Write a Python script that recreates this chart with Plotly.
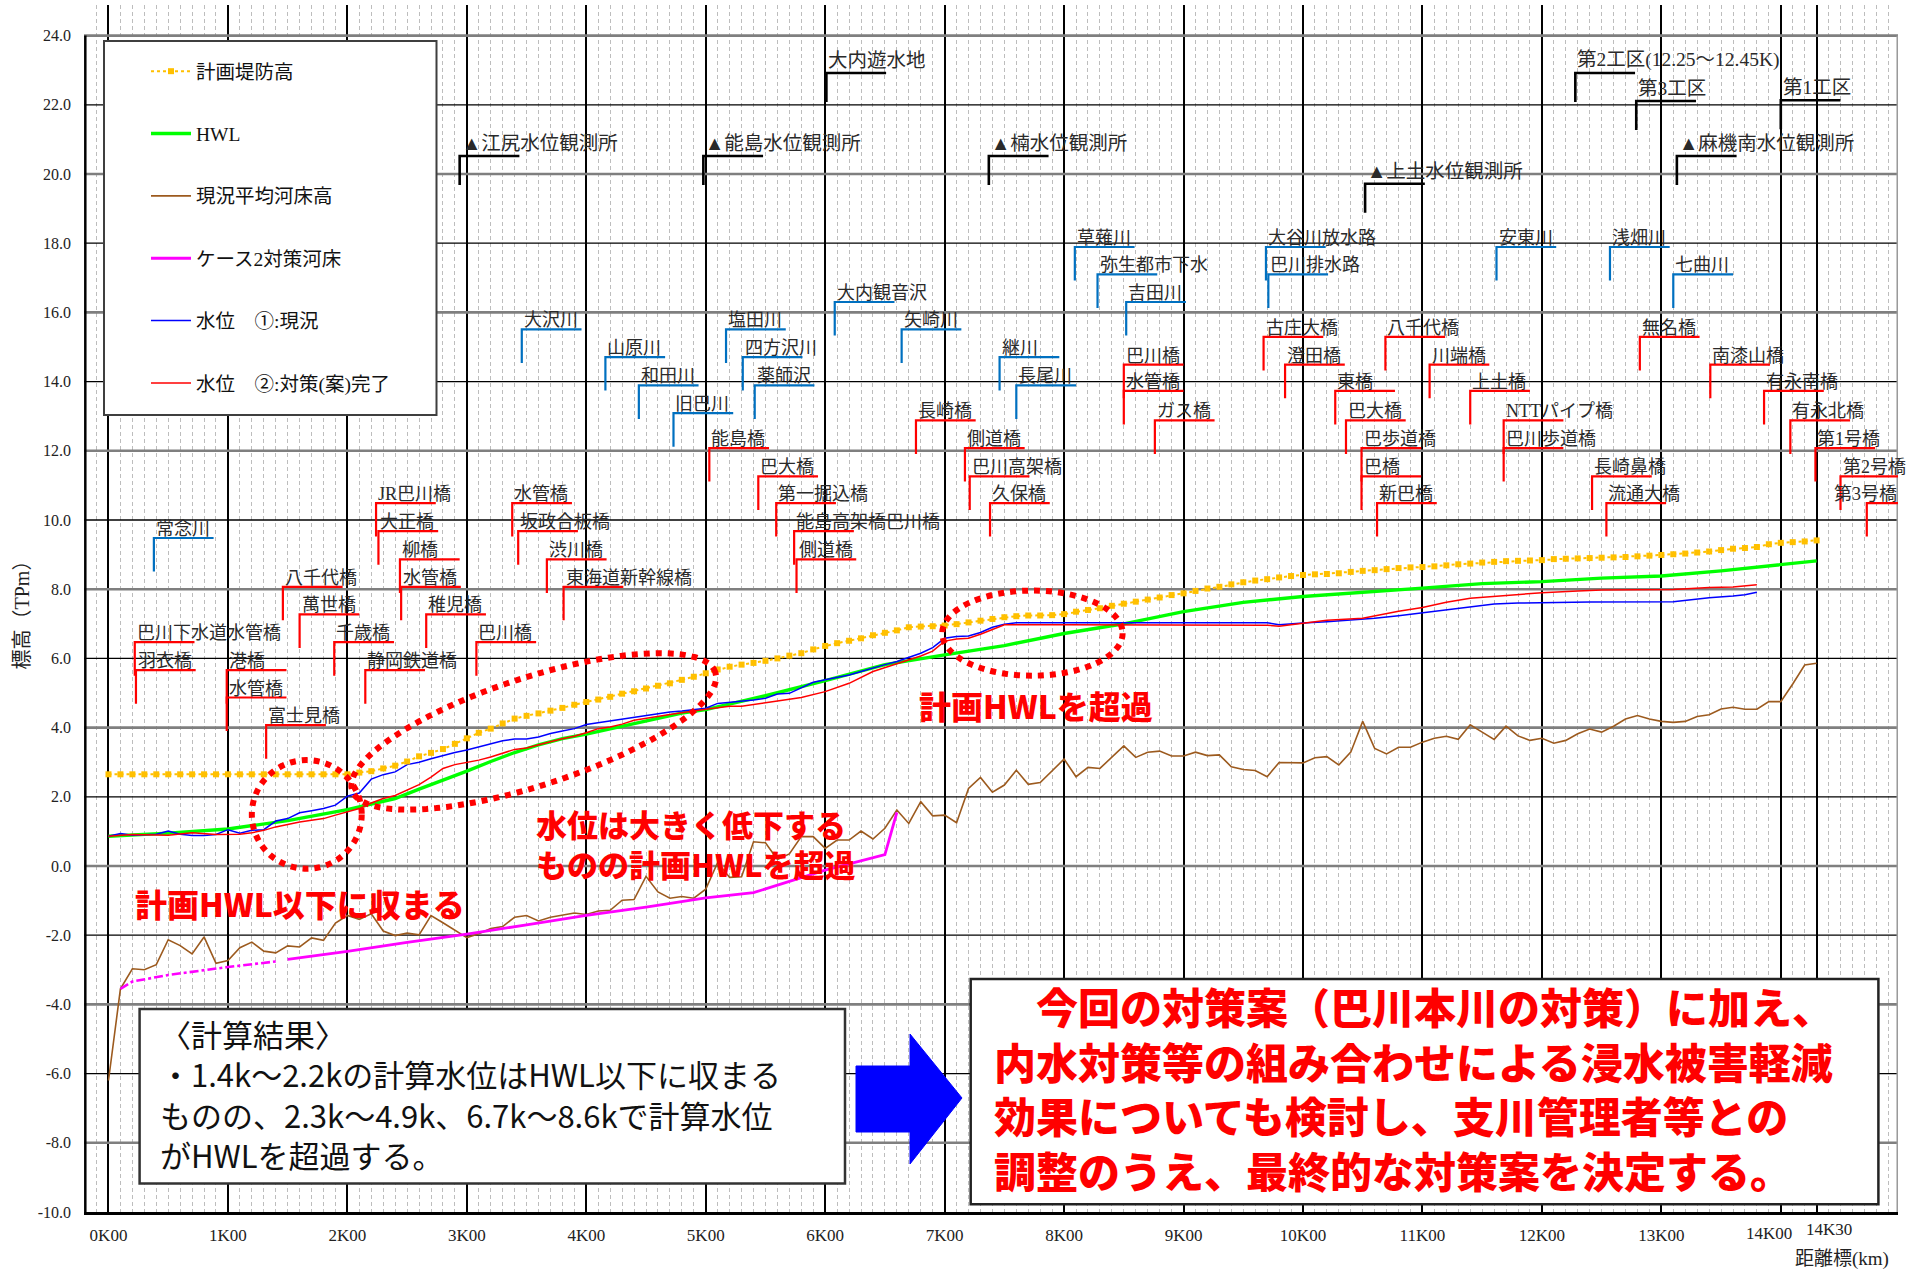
import math
import plotly.graph_objects as go

# ---------------- longitudinal profile data (distance: km, elevation: T.P. m) ----------------
stations = [
    0.0, 0.1, 0.2, 0.3, 0.4, 0.5, 0.6, 0.7, 0.8, 0.9,
    1.0, 1.1, 1.2, 1.3, 1.4, 1.5, 1.6, 1.7, 1.8, 1.9,
    2.0, 2.1, 2.2, 2.3, 2.4, 2.5, 2.6, 2.7, 2.8, 2.9,
    3.0, 3.1, 3.2, 3.3, 3.4, 3.5, 3.6, 3.7, 3.8, 3.9,
    4.0, 4.1, 4.2, 4.3, 4.4, 4.5, 4.6, 4.7, 4.8, 4.9,
    5.0, 5.1, 5.2, 5.3, 5.4, 5.5, 5.6, 5.7, 5.8, 5.9,
    6.0, 6.1, 6.2, 6.3, 6.4, 6.5, 6.6, 6.7, 6.8, 6.9,
    7.0, 7.1, 7.2, 7.3, 7.4, 7.5, 7.6, 7.7, 7.8, 7.9,
    8.0, 8.1, 8.2, 8.3, 8.4, 8.5, 8.6, 8.7, 8.8, 8.9,
    9.0, 9.1, 9.2, 9.3, 9.4, 9.5, 9.6, 9.7, 9.8, 9.9,
    10.0, 10.1, 10.2, 10.3, 10.4, 10.5, 10.6, 10.7, 10.8, 10.9,
    11.0, 11.1, 11.2, 11.3, 11.4, 11.5, 11.6, 11.7, 11.8, 11.9,
    12.0, 12.1, 12.2, 12.3, 12.4, 12.5, 12.6, 12.7, 12.8, 12.9,
    13.0, 13.1, 13.2, 13.3, 13.4, 13.5, 13.6, 13.7, 13.8, 13.9,
    14.0, 14.1, 14.2, 14.3,
]

# 計画堤防高
levee_crown = [
    2.65, 2.65, 2.65, 2.65, 2.65, 2.65, 2.65, 2.65, 2.65, 2.65,
    2.65, 2.65, 2.65, 2.65, 2.65, 2.65, 2.65, 2.65, 2.65, 2.65,
    2.65, 2.70, 2.74, 2.82, 2.90, 3.02, 3.17, 3.27, 3.38, 3.53,
    3.69, 3.85, 3.97, 4.12, 4.26, 4.34, 4.41, 4.49, 4.57, 4.66,
    4.74, 4.81, 4.89, 4.98, 5.05, 5.13, 5.21, 5.28, 5.38, 5.47,
    5.57, 5.68, 5.76, 5.82, 5.87, 5.93, 6.00, 6.08, 6.15, 6.26,
    6.36, 6.44, 6.51, 6.58, 6.67, 6.74, 6.81, 6.90, 6.92, 6.93,
    6.95, 6.99, 7.04, 7.09, 7.14, 7.19, 7.22, 7.24, 7.24, 7.25,
    7.28, 7.35, 7.40, 7.45, 7.52, 7.58, 7.64, 7.70, 7.76, 7.83,
    7.88, 7.95, 8.02, 8.07, 8.14, 8.20, 8.25, 8.29, 8.34, 8.38,
    8.41, 8.43, 8.44, 8.46, 8.50, 8.53, 8.55, 8.58, 8.61, 8.63,
    8.64, 8.66, 8.69, 8.72, 8.74, 8.77, 8.79, 8.81, 8.82, 8.83,
    8.84, 8.87, 8.88, 8.89, 8.90, 8.91, 8.92, 8.93, 8.95, 8.97,
    8.99, 9.01, 9.03, 9.06, 9.09, 9.13, 9.17, 9.19, 9.22, 9.30,
    9.34, 9.36, 9.38, 9.41,
]

# 現況平均河床高
bed_current = [
    -6.20, -3.55, -2.97, -3.00, -2.85, -2.13, -2.30, -2.54, -2.05, -2.81,
    -2.73, -2.36, -2.20, -2.46, -2.51, -2.31, -2.34, -2.08, -2.15, -1.65,
    -1.43, -1.54, -1.38, -1.88, -2.01, -1.94, -1.99, -1.43, -1.64, -1.86,
    -2.07, -1.96, -1.81, -1.75, -1.48, -1.43, -1.59, -1.48, -1.41, -1.36,
    -1.40, -1.30, -1.28, -0.99, -0.97, -0.30, -0.75, -0.93, -0.88, -0.93,
    -0.67, 0.10, -0.33, -0.31, 0.70, 0.67, 0.19, 0.35, 0.85, 0.85,
    0.51, 0.75, 0.75, 1.01, 0.78, 1.09, 1.62, 1.23, 1.86, 1.45,
    1.47, 1.25, 2.24, 2.56, 2.13, 2.34, 2.77, 2.36, 2.41, 2.76,
    3.09, 2.58, 2.85, 2.82, 3.14, 3.47, 3.14, 3.29, 3.32, 3.18,
    3.18, 3.29, 3.19, 3.21, 2.87, 2.79, 2.76, 2.58, 2.99, 2.99,
    2.98, 3.13, 3.16, 2.92, 3.29, 4.18, 3.40, 3.24, 3.43, 3.43,
    3.58, 3.69, 3.75, 3.66, 4.08, 3.87, 3.66, 4.04, 3.76, 3.63,
    3.69, 3.55, 3.63, 3.82, 3.96, 3.87, 4.04, 4.25, 4.35, 4.25,
    4.18, 4.15, 4.18, 4.32, 4.37, 4.54, 4.59, 4.53, 4.53, 4.75,
    4.75, 5.26, 5.81, 5.86,
]

# HWL
hwl_km = [0.0, 0.5, 1.0, 1.5, 2.0, 2.2, 2.4, 2.6, 2.8, 3.0, 3.2, 3.4, 3.6, 3.8,
          4.0, 4.2, 4.4, 4.6, 4.8, 5.0, 5.5, 6.0, 6.5, 7.0, 7.5, 8.0, 8.5, 9.0,
          9.5, 10.0, 10.5, 11.0, 11.5, 12.0, 12.5, 13.0, 13.5, 14.0, 14.3]
hwl = [0.86, 0.95, 1.07, 1.31, 1.63, 1.78, 1.95, 2.22, 2.47, 2.74, 3.02, 3.28, 3.50, 3.68,
       3.81, 3.96, 4.13, 4.27, 4.42, 4.52, 4.92, 5.36, 5.82, 6.10, 6.37, 6.72, 7.00, 7.35,
       7.62, 7.79, 7.90, 8.03, 8.16, 8.22, 8.32, 8.38, 8.53, 8.72, 8.82]

# ケース2対策河床 (solid section and the dash-dot lead-in near the mouth)
case2_km = [1.5, 2.0, 2.5, 3.0, 3.5, 4.0, 4.5, 5.0, 5.4, 6.0, 6.5, 6.6]
case2_bed = [-2.70, -2.47, -2.21, -1.97, -1.70, -1.43, -1.19, -0.92, -0.77, -0.12, 0.33, 1.55]
case2_lead_km = [0.1, 0.2, 0.5, 1.0, 1.4]
case2_lead = [-3.55, -3.34, -3.15, -2.92, -2.76]

# 水位 ①:現況
wl_now_km = [
    0.0, 0.1, 0.2, 0.3, 0.4, 0.5, 0.6, 0.7, 0.8, 0.9,
    1.0, 1.1, 1.2, 1.3, 1.4, 1.5, 1.6, 1.7, 1.8, 1.9,
    2.0, 2.1, 2.2, 2.3, 2.4, 2.5, 2.6, 2.7, 2.8, 2.9,
    3.0, 3.1, 3.2, 3.3, 3.4, 3.5, 3.6, 3.7, 3.8, 3.9,
    4.0, 4.1, 4.2, 4.3, 4.4, 4.5, 4.6, 4.7, 4.8, 4.9,
    5.0, 5.1, 5.2, 5.3, 5.4, 5.5, 5.6, 5.7, 5.8, 5.9,
    6.0, 6.1, 6.2, 6.3, 6.4, 6.5, 6.6, 6.7, 6.8, 6.9,
    7.0, 7.1, 7.2, 7.3, 7.4, 7.5, 7.6,
    8.0, 8.5, 9.0, 9.5, 9.7, 9.8, 9.9, 10.0, 10.2, 10.4, 10.5, 10.6, 10.8,
    11.0, 11.2, 11.4, 11.6, 11.8, 12.0, 12.3, 12.4, 13.1, 13.2, 13.4, 13.6, 13.7, 13.8,
]
wl_now = [
    0.86, 0.94, 0.89, 0.91, 0.92, 1.01, 0.92, 0.88, 0.88, 0.91,
    1.05, 0.95, 1.03, 1.05, 1.30, 1.37, 1.54, 1.60, 1.66, 1.76,
    2.02, 2.11, 2.51, 2.64, 2.72, 2.93, 3.00, 3.10, 3.20, 3.28,
    3.35, 3.44, 3.54, 3.62, 3.67, 3.67, 3.73, 3.83, 3.90, 3.97,
    4.09, 4.14, 4.19, 4.26, 4.31, 4.36, 4.41, 4.45, 4.48, 4.52,
    4.56, 4.70, 4.73, 4.75, 4.80, 4.85, 4.97, 4.99, 5.15, 5.31,
    5.38, 5.45, 5.52, 5.62, 5.73, 5.82, 5.91, 6.03, 6.15, 6.31,
    6.58, 6.63, 6.65, 6.75, 6.90, 6.99, 7.03,
    7.03, 7.03, 7.03, 7.03, 7.03, 6.97, 7.00, 7.02, 7.06, 7.11, 7.12, 7.16, 7.23,
    7.32, 7.40, 7.49, 7.57, 7.60, 7.61, 7.61, 7.63, 7.64, 7.68, 7.75, 7.80, 7.84, 7.91,
]

# 水位 ②:対策(案)完了
wl_plan_km = [
    0.0, 0.2, 0.5, 0.7, 0.9,
    1.0, 1.1, 1.2, 1.3, 1.4, 1.5, 1.6, 1.7, 1.8, 1.9,
    2.0, 2.1, 2.2, 2.3, 2.4, 2.5, 2.6, 2.7, 2.8, 2.9,
    3.0, 3.1, 3.2, 3.3, 3.4, 3.5, 3.6, 3.7, 3.8, 3.9,
    4.0, 4.1, 4.2, 4.3, 4.4, 4.5, 4.6, 4.7, 4.8, 4.9,
    5.0, 5.2, 5.3, 5.5, 5.7, 5.8, 6.0, 6.2, 6.4, 6.6, 6.8, 6.9,
    7.0, 7.1, 7.2, 7.3, 7.4, 7.5, 8.0, 8.5, 9.0, 9.5, 9.7, 9.8,
    10.0, 10.2, 10.5, 10.8, 11.0, 11.2, 11.4, 11.8, 12.0, 12.3, 12.5, 13.1, 13.4, 13.6, 13.8,
]
wl_plan = [
    0.86, 0.91, 0.89, 0.96, 0.91,
    0.91, 0.92, 0.96, 1.03, 1.13, 1.21, 1.27, 1.32, 1.37, 1.47,
    1.56, 1.66, 1.82, 1.95, 2.04, 2.19, 2.35, 2.57, 2.82, 2.93,
    2.99, 3.06, 3.15, 3.27, 3.37, 3.41, 3.49, 3.59, 3.68, 3.75,
    3.85, 3.97, 4.02, 4.10, 4.21, 4.27, 4.34, 4.38, 4.43, 4.47,
    4.53, 4.62, 4.62, 4.72, 4.83, 4.87, 5.04, 5.28, 5.62, 5.84, 6.07, 6.21,
    6.50, 6.56, 6.58, 6.70, 6.84, 6.97, 6.97, 6.97, 6.97, 6.97, 6.96, 6.93,
    7.02, 7.10, 7.16, 7.36, 7.47, 7.62, 7.74, 7.84, 7.90, 7.95, 7.98, 7.99, 8.05, 8.06, 8.13,
]

# ---------------- landmarks along the river: (name, distance km, leader elevation) ----------------
gauges_and_works = [
    ("▲江尻水位観測所", 2.94, 20.52),
    ("▲能島水位観測所", 4.98, 20.52),
    ("▲楠水位観測所", 7.37, 20.52),
    ("▲上土水位観測所", 10.52, 19.72),
    ("▲麻機南水位観測所", 13.13, 20.52),
    ("大内遊水地", 6.01, 22.92),
    ("第2工区(12.25～12.45K)", 12.28, 22.92),
    ("第3工区", 12.79, 22.11),
    ("第1工区", 14.00, 22.13),
]

tributaries = [
    ("常念川", 0.38, 9.48),
    ("大沢川", 3.46, 15.51),
    ("山原川", 4.16, 14.71),
    ("和田川", 4.44, 13.89),
    ("旧巴川", 4.73, 13.09),
    ("塩田川", 5.17, 15.51),
    ("四方沢川", 5.31, 14.71),
    ("薬師沢", 5.41, 13.89),
    ("大内観音沢", 6.08, 16.30),
    ("矢崎川", 6.64, 15.51),
    ("継川", 7.46, 14.71),
    ("長尾川", 7.60, 13.89),
    ("草薙川", 8.09, 17.89),
    ("弥生都市下水", 8.28, 17.10),
    ("吉田川", 8.52, 16.30),
    ("大谷川放水路", 9.69, 17.89),
    ("巴川排水路", 9.71, 17.10),
    ("安東川", 11.62, 17.89),
    ("浅畑川", 12.57, 17.89),
    ("七曲川", 13.10, 17.10),
]

bridges = [
    ("巴川下水道水管橋", 0.22, 6.47),
    ("羽衣橋", 0.23, 5.66),
    ("港橋", 0.99, 5.66),
    ("水管橋", 0.99, 4.87),
    ("富士見橋", 1.32, 4.07),
    ("八千代橋", 1.46, 8.07),
    ("萬世橋", 1.60, 7.27),
    ("千歳橋", 1.89, 6.47),
    ("静岡鉄道橋", 2.15, 5.66),
    ("JR巴川橋", 2.24, 10.49),
    ("大正橋", 2.26, 9.68),
    ("柳橋", 2.44, 8.86),
    ("水管橋", 2.45, 8.07),
    ("稚児橋", 2.66, 7.27),
    ("巴川橋", 3.08, 6.47),
    ("水管橋", 3.38, 10.49),
    ("坂政合板橋", 3.43, 9.68),
    ("渋川橋", 3.67, 8.86),
    ("東海道新幹線橋", 3.81, 8.07),
    ("能島橋", 5.03, 12.08),
    ("巴大橋", 5.44, 11.26),
    ("第一掘込橋", 5.59, 10.49),
    ("能島高架橋巴川橋", 5.74, 9.68),
    ("側道橋", 5.76, 8.86),
    ("長崎橋", 6.76, 12.88),
    ("側道橋", 7.17, 12.08),
    ("巴川高架橋", 7.21, 11.26),
    ("久保橋", 7.38, 10.49),
    ("巴川橋", 8.50, 14.49),
    ("水管橋", 8.50, 13.73),
    ("ガス橋", 8.76, 12.88),
    ("古庄大橋", 9.67, 15.29),
    ("澄田橋", 9.85, 14.49),
    ("東橋", 10.27, 13.73),
    ("巴大橋", 10.36, 12.88),
    ("巴歩道橋", 10.49, 12.08),
    ("巴橋", 10.49, 11.26),
    ("新巴橋", 10.62, 10.49),
    ("八千代橋", 10.69, 15.29),
    ("川端橋", 11.06, 14.49),
    ("上土橋", 11.40, 13.73),
    ("NTTパイプ橋", 11.68, 12.88),
    ("巴川歩道橋", 11.68, 12.08),
    ("長崎鼻橋", 12.42, 11.26),
    ("流通大橋", 12.54, 10.49),
    ("無名橋", 12.82, 15.29),
    ("南漆山橋", 13.41, 14.49),
    ("有永南橋", 13.86, 13.73),
    ("有永北橋", 14.08, 12.88),
    ("第1号橋", 14.29, 12.08),
    ("第2号橋", 14.50, 11.26),
    ("第3号橋", 14.72, 10.49),
]

km_ticks = [0, 1, 2, 3, 4, 5, 6, 7, 8, 9, 10, 11, 12, 13, 14]
km_tick_text = ["0K00", "1K00", "2K00", "3K00", "4K00", "5K00", "6K00", "7K00",
                "8K00", "9K00", "10K00", "11K00", "12K00", "13K00", "14K00"]
elev_ticks = [-10, -8, -6, -4, -2, 0, 2, 4, 6, 8, 10, 12, 14, 16, 18, 20, 22, 24]

# ---------------- page geometry ----------------
FIG_W, FIG_H = 1926, 1269
M_L, M_R, M_T, M_B = 84, 28, 5, 57
PLOT_W = FIG_W - M_L - M_R
PLOT_H = FIG_H - M_T - M_B
PX_PER_KM = 119.45
PX_PER_M = 34.6
X_MIN = -0.205
X_MAX = X_MIN + PLOT_W / PX_PER_KM
Y_MIN = -10.0
Y_MAX = Y_MIN + PLOT_H / PX_PER_M


def paper_x(px):
    return (px - M_L) / PLOT_W


def paper_y(py):
    return (FIG_H - M_B - py) / PLOT_H


SERIF_JP = "Liberation Serif, Noto Sans CJK JP"
SANS_JP = "Noto Sans CJK JP"
RED = "#FF0000"

fig = go.Figure()

# ---------------- profile lines ----------------
fig.add_trace(go.Scatter(
    x=stations, y=bed_current, mode="lines", name="現況平均河床高",
    line=dict(color="#9C5A1E", width=1.6), legendgroup="bed", legendrank=3))
fig.add_trace(go.Scatter(
    x=case2_lead_km, y=case2_lead, mode="lines", name="ケース2対策河床",
    line=dict(color="#FF00FF", width=2.6, dash="dashdot"),
    legendgroup="case2", showlegend=False))
fig.add_trace(go.Scatter(
    x=case2_km, y=case2_bed, mode="lines", name="ケース2対策河床",
    line=dict(color="#FF00FF", width=2.8), legendgroup="case2", legendrank=4))
fig.add_trace(go.Scatter(
    x=hwl_km, y=hwl, mode="lines", name="HWL",
    line=dict(color="#00FF00", width=3.4), legendgroup="hwl", legendrank=2))
fig.add_trace(go.Scatter(
    x=wl_now_km, y=wl_now, mode="lines", name="水位　①:現況",
    line=dict(color="#0000FF", width=1.5), legendgroup="now", legendrank=5))
fig.add_trace(go.Scatter(
    x=wl_plan_km, y=wl_plan, mode="lines", name="水位　②:対策(案)完了",
    line=dict(color="#FF0000", width=1.5), legendgroup="plan", legendrank=6))
fig.add_trace(go.Scatter(
    x=stations, y=levee_crown, mode="lines+markers", name="計画堤防高",
    line=dict(color="#FFC000", width=2, dash="dot"),
    marker=dict(symbol="square", size=6, color="#FFC000"),
    legendgroup="levee", legendrank=1))

# ---------------- horizontal grid, axis frame ----------------
for v in elev_ticks[1:]:
    heavy = v % 4 == 0
    fig.add_shape(type="line", xref="x", yref="y", x0=X_MIN, x1=X_MAX, y0=v, y1=v,
                  line=dict(color="#7F7F7F" if heavy else "#000000", width=2.6 if heavy else 1.3),
                  layer="between")
fig.add_shape(type="line", xref="x", yref="y", x0=X_MIN + 0.011, x1=X_MIN + 0.011, y0=-10, y1=24,
              line=dict(color="#000000", width=2.5), layer="between")
fig.add_shape(type="line", xref="x", yref="y", x0=X_MAX - 0.006, x1=X_MAX - 0.006, y0=-10, y1=24,
              line=dict(color="#9A9A9A", width=1.6), layer="between")

# ---------------- landmark leaders ----------------
ARM_KM = 0.5


def text_em(s):
    # rough advance width in em: ASCII is about half as wide as a CJK glyph
    return sum(0.5 if ord(c) < 128 else 1.0 for c in s)


def leader(name, km, top, color, lw, drop, size, lift):
    fig.add_shape(type="path", xref="x", yref="y",
                  path=f"M {km},{top - drop} L {km},{top} L {km + ARM_KM},{top}",
                  line=dict(color=color, width=lw), layer="above")
    text_w = text_em(name) * size / PX_PER_KM
    font = dict(family=SERIF_JP, size=size, color="#2a2a2a")
    # keep a label inside the frame when it would spill well past the right edge
    if km + text_w > X_MAX + 0.2:
        fig.add_annotation(x=X_MAX, y=top, xref="x", yref="y", xanchor="right", yanchor="bottom",
                           yshift=lift, text=name, showarrow=False, borderpad=0, font=font)
    else:
        fig.add_annotation(x=km, y=top, xref="x", yref="y", xanchor="left", yanchor="bottom",
                           xshift=1, yshift=lift, text=name, showarrow=False, borderpad=0, font=font)


for name, km, top in gauges_and_works:
    leader(name, km, top, "#000000", 2.6, 0.84, 19.5, 1)
for name, km, top in tributaries:
    leader(name, km, top, "#0070C0", 2.2, 0.97, 18, -2)
for name, km, top in bridges:
    leader(name, km, top, "#FF0000", 2.2, 0.97, 18, -2)

# ---------------- highlighted reaches (dotted rings) ----------------
ring = dict(color=RED, width=6, dash="dot")
fig.add_shape(type="circle", xref="x", yref="y", x0=1.20, x1=2.12, y0=-0.08, y1=3.06,
              line=ring, layer="above")
fig.add_shape(type="circle", xref="x", yref="y", x0=6.98, x1=8.49, y0=5.50, y1=7.96,
              line=ring, layer="above")


def tilted_ring(cx, cy, a_px, b_px, tilt_deg, n=96):
    th = math.radians(tilt_deg)
    pts = []
    for i in range(n):
        t = 2 * math.pi * i / n
        dx = a_px * math.cos(t) * math.cos(th) - b_px * math.sin(t) * math.sin(th)
        dy = a_px * math.cos(t) * math.sin(th) + b_px * math.sin(t) * math.cos(th)
        pts.append((cx + dx / PX_PER_KM, cy + dy / PX_PER_M))
    return "M " + " L ".join(f"{x:.4f},{y:.4f}" for x, y in pts) + " Z"


fig.add_shape(type="path", xref="x", yref="y", path=tilted_ring(3.56, 3.89, 191, 54, 18),
              line=ring, layer="above")

# ---------------- callouts ----------------
fig.add_annotation(x=1.607, y=-1.06, xref="x", yref="y", text="計画HWL以下に収まる",
                   showarrow=False, xanchor="center", yanchor="middle",
                   font=dict(family=SANS_JP, size=32, color=RED, weight=900))
fig.add_annotation(x=3.563, y=0.66, xref="x", yref="y",
                   text="水位は大きく低下する<br>ものの計画HWLを超過",
                   showarrow=False, xanchor="left", yanchor="middle", align="left",
                   font=dict(family=SANS_JP, size=31, color=RED, weight=900))
fig.add_annotation(x=7.763, y=4.64, xref="x", yref="y", text="計画HWLを超過",
                   showarrow=False, xanchor="center", yanchor="middle",
                   font=dict(family=SANS_JP, size=32, color=RED, weight=900))

# ---------------- legend frame ----------------
fig.add_shape(type="rect", xref="paper", yref="paper",
              x0=paper_x(104), x1=paper_x(436.5), y0=paper_y(415), y1=paper_y(41),
              fillcolor="#FFFFFF", line=dict(color="#3F3F3F", width=2), layer="above")

# ---------------- result box, arrow and conclusion box ----------------
fig.add_shape(type="rect", xref="paper", yref="paper",
              x0=paper_x(139.6), x1=paper_x(845), y0=paper_y(1183.5), y1=paper_y(1009),
              fillcolor="#FFFFFF", line=dict(color="#333333", width=2.5), layer="above")
result_text = ("〈計算結果〉<br>"
               "・1.4k～2.2kの計算水位はHWL以下に収まる<br>"
               "ものの、2.3k～4.9k、6.7k～8.6kで計算水位<br>"
               "がHWLを超過する。")
fig.add_annotation(x=paper_x(158), y=paper_y(1094), xref="paper", yref="paper",
                   text=result_text, showarrow=False, xanchor="left", yanchor="middle", align="left",
                   font=dict(family=SANS_JP, size=31, color="#111111"))

arrow_px = [(856, 1066), (910, 1066), (910, 1034), (962, 1098), (910, 1164), (910, 1132), (856, 1132)]
arrow_path = "M " + " L ".join(f"{paper_x(x):.5f},{paper_y(y):.5f}" for x, y in arrow_px) + " Z"
fig.add_shape(type="path", xref="paper", yref="paper", path=arrow_path,
              fillcolor="#0000FF", line=dict(color="#0000FF", width=1), layer="above")

fig.add_shape(type="rect", xref="paper", yref="paper",
              x0=paper_x(970.7), x1=paper_x(1878.4), y0=paper_y(1204.3), y1=paper_y(979),
              fillcolor="#FFFFFF", line=dict(color="#222222", width=2.5), layer="above")
conclusion_text = ("　今回の対策案（巴川本川の対策）に加え、<br>"
                   "内水対策等の組み合わせによる浸水被害軽減<br>"
                   "効果についても検討し、支川管理者等との<br>"
                   "調整のうえ、最終的な対策案を決定する。")
fig.add_annotation(x=paper_x(991.6), y=paper_y(1087), xref="paper", yref="paper",
                   text=conclusion_text, showarrow=False, xanchor="left", yanchor="middle",
                   align="left", font=dict(family=SANS_JP, size=42, color=RED, weight=900))

# ---------------- axis captions ----------------
fig.add_annotation(x=paper_x(21.5), y=paper_y(610), xref="paper", yref="paper",
                   text="標高（TPm）", textangle=-90, showarrow=False,
                   xanchor="center", yanchor="middle",
                   font=dict(family=SERIF_JP, size=20, color="#222222"))
fig.add_annotation(x=paper_x(1842), y=paper_y(1259), xref="paper", yref="paper",
                   text="距離標(km)", showarrow=False, xanchor="center", yanchor="middle",
                   font=dict(family=SERIF_JP, size=19, color="#222222"))
fig.add_annotation(x=paper_x(1769), y=paper_y(1233), xref="paper", yref="paper",
                   text=km_tick_text[14], showarrow=False, xanchor="center", yanchor="middle",
                   font=dict(family="Liberation Serif", size=17, color="#222222"))
fig.add_annotation(x=paper_x(1829), y=paper_y(1229), xref="paper", yref="paper",
                   text="14K30", showarrow=False, xanchor="center", yanchor="middle",
                   font=dict(family="Liberation Serif", size=17, color="#222222"))

fig.update_layout(
    width=FIG_W, height=FIG_H,
    margin=dict(l=M_L, r=M_R, t=M_T, b=M_B, pad=0),
    paper_bgcolor="#FFFFFF", plot_bgcolor="#FFFFFF",
    showlegend=True,
    legend=dict(x=paper_x(146), y=paper_y(52), xanchor="left", yanchor="top",
                bgcolor="rgba(0,0,0,0)", borderwidth=0, tracegroupgap=34, itemwidth=40,
                font=dict(family=SERIF_JP, size=19.5, color="#111111")),
    xaxis=dict(
        range=[X_MIN, X_MAX],
        tickmode="array",
        tickvals=km_ticks + [14.3],
        ticktext=km_tick_text[:14] + ["", ""],
        showgrid=True, gridcolor="#000000", gridwidth=2,
        zeroline=False, showline=True, linecolor="#000000", linewidth=2.5,
        ticks="", ticklabelstandoff=6,
        tickfont=dict(family="Liberation Serif", size=17, color="#222222"),
        minor=dict(tickmode="linear", tick0=0, dtick=0.1, showgrid=True,
                   gridcolor="#BDBDBD", gridwidth=1, griddash="4px,3px"),
    ),
    yaxis=dict(
        range=[Y_MIN, Y_MAX],
        tickmode="array", tickvals=elev_ticks,
        ticktext=[f"{v:.1f}" for v in elev_ticks],
        showgrid=False, zeroline=False, showline=False,
        ticks="", ticklabelstandoff=12,
        tickfont=dict(family="Liberation Serif", size=16, color="#222222"),
    ),
)

fig.write_html("out.html")
